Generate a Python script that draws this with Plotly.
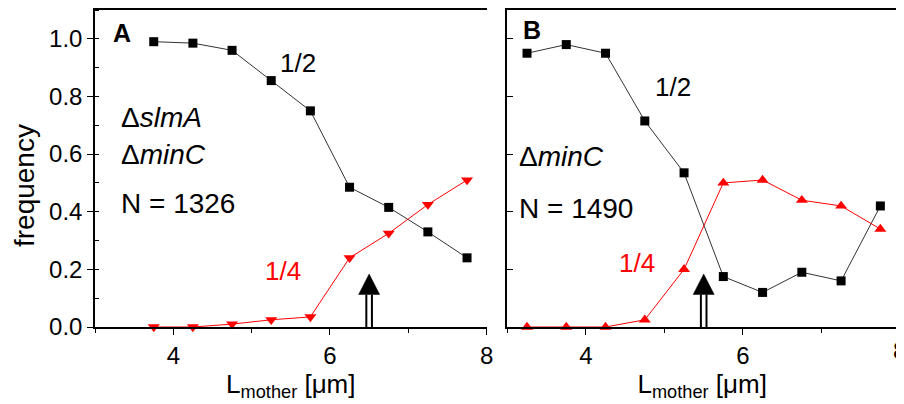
import plotly.graph_objects as go

# ---- data ----
x_a = [3.75, 4.25, 4.75, 5.25, 5.75, 6.25, 6.75, 7.25, 7.75]
half_a = [0.99, 0.985, 0.96, 0.855, 0.75, 0.485, 0.415, 0.33, 0.24]
quarter_a = [0.0, 0.0, 0.01, 0.025, 0.035, 0.24, 0.325, 0.425, 0.51]

x_b = [3.25, 3.75, 4.25, 4.75, 5.25, 5.75, 6.25, 6.75, 7.25, 7.75]
half_b = [0.95, 0.98, 0.95, 0.715, 0.535, 0.175, 0.12, 0.19, 0.16, 0.42]
quarter_b = [0.0, 0.0, 0.0, 0.025, 0.2, 0.5, 0.51, 0.44, 0.42, 0.34]

arrow_x = [6.5, 5.5]          # L_mother marked by arrows (A, B)
x_tickvals = [4, 6, 8]
x_ticktext = ["4", "6", "8"]
y_tickvals = [0.0, 0.2, 0.4, 0.6, 0.8, 1.0]
y_ticktext = ["0.0", "0.2", "0.4", "0.6", "0.8", "1.0"]

FONT = "Liberation Sans, Arial, sans-serif"
RED = "#ff0000"

fig = go.Figure()

def add_pair(x, half, quarter, xa, ya, quarter_symbol):
    fig.add_trace(go.Scatter(
        x=x, y=half, mode="lines+markers", xaxis=xa, yaxis=ya,
        line=dict(color="#333333", width=1),
        marker=dict(symbol="square", size=9, color="black"),
        showlegend=False, cliponaxis=False))
    fig.add_trace(go.Scatter(
        x=x, y=quarter, mode="lines+markers", xaxis=xa, yaxis=ya,
        line=dict(color=RED, width=1),
        marker=dict(symbol=quarter_symbol, size=10.5, color=RED),
        showlegend=False, cliponaxis=False))

add_pair(x_a, half_a, quarter_a, "x", "y", "triangle-down")
add_pair(x_b, half_b, quarter_b, "x2", "y2", "triangle-up")

axis_common = dict(showgrid=False, zeroline=False, showline=True,
                   linecolor="black", linewidth=1.5,
                   tickfont=dict(family=FONT, size=24, color="black"))

xaxis_common = dict(axis_common, ticks="outside", ticklen=6, tickwidth=1.2,
                    tickcolor="black", tickmode="array",
                    tickvals=x_tickvals, ticktext=x_ticktext,
                    minor=dict(ticks="outside", dtick=1, tick0=3, ticklen=4,
                               tickcolor="black", showgrid=False),
                    mirror=True, ticklabelstandoff=0,
                    title=dict(text="L<sub>mother</sub> [μm]",
                               font=dict(family=FONT, size=26, color="black"),
                               standoff=2))

# page body has an 8 px margin: figure is 896x396 so that it fills the 904x404 window
fig.update_layout(
    width=896, height=396,
    margin=dict(l=87, r=0, t=1, b=77),
    paper_bgcolor="white", plot_bgcolor="white",
    font=dict(family=FONT, color="black"),
    xaxis=dict(xaxis_common, domain=[0, 0.4883], range=[3, 8], anchor="y"),
    xaxis2=dict(xaxis_common, domain=[0.5142, 1.0], range=[3, 7.962], anchor="y2"),
    yaxis=dict(axis_common, domain=[0, 1], range=[0, 1.1], anchor="x",
               tickmode="array", tickvals=y_tickvals, ticktext=y_ticktext,
               ticks="outside", ticklen=6, tickwidth=1.2, tickcolor="black",
               minor=dict(ticks="inside", dtick=0.1, tick0=0, ticklen=4,
                          tickcolor="black", showgrid=False),
               ticklabelstandoff=0),
    yaxis3=dict(showgrid=False, zeroline=False, showline=True,
                linecolor="black", linewidth=1.5, overlaying="y", side="right",
                anchor="x", range=[0, 1.1], tickmode="array",
                tickvals=y_tickvals, showticklabels=False,
                ticks="inside", ticklen=6, tickwidth=1.2, tickcolor="black",
                minor=dict(ticks="inside", dtick=0.1, tick0=0, ticklen=4,
                           tickcolor="black", showgrid=False)),
    yaxis2=dict(showgrid=False, zeroline=False, showline=True,
                linecolor="black", linewidth=1.5, domain=[0, 1],
                range=[0, 1.1], anchor="x2", tickmode="array",
                tickvals=y_tickvals, showticklabels=False,
                ticks="inside", ticklen=6, tickwidth=1.2, tickcolor="black"),
)

# ---- arrows (double shaft + filled head) ----
for xa, ya, ax in [("x", "y", arrow_x[0]), ("x2", "y2", arrow_x[1])]:
    for off in (-2.8, 2.8):
        fig.add_shape(type="line", xref=xa, yref=ya, xsizemode="pixel",
                      xanchor=ax, x0=off, x1=off, y0=0, y1=0.113,
                      line=dict(color="black", width=2))
    fig.add_shape(type="path", xref=xa, yref=ya, xsizemode="pixel",
                  xanchor=ax, path="M-10.5,0.113 L10.5,0.113 L0,0.184 Z",
                  fillcolor="black", line=dict(color="black", width=0.5))

def ann(text, x, y, xa, ya, size=28, color="black", xanchor="center", **kw):
    fig.add_annotation(text=text, x=x, y=y, xref=xa, yref=ya, showarrow=False,
                       xanchor=xanchor, yanchor="middle",
                       font=dict(family=FONT, size=size, color=color), **kw)

# panel A
ann("<b>A</b>", 3.346, 1.021, "x", "y", size=25)
ann("1/2", 5.595, 0.917, "x", "y", size=26)
ann("Δ<i>slmA</i>", 3.304, 0.727, "x", "y", xanchor="left")
ann("Δ<i>minC</i>", 3.304, 0.599, "x", "y", xanchor="left")
ann("N = 1326", 3.304, 0.429, "x", "y", xanchor="left")
ann("1/4", 5.405, 0.194, "x", "y", size=26, color=RED)
# panel B
ann("<b>B</b>", 3.316, 1.031, "x2", "y2", size=25)
ann("1/2", 5.109, 0.834, "x2", "y2", size=26)
ann("Δ<i>minC</i>", 3.126, 0.592, "x2", "y2", xanchor="left")
ann("N = 1490", 3.126, 0.412, "x2", "y2", xanchor="left")
ann("1/4", 4.654, 0.221, "x2", "y2", size=26, color=RED)
# partially visible tick label "8" at the right edge of panel B (cut by the page edge)
ann("8", 1.0037, -0.0745, "paper", "paper", size=24)
# y title
ann("frequency", -0.0878, 0.4465, "paper", "paper", size=28, textangle=-90)

fig.write_html("out.html")
